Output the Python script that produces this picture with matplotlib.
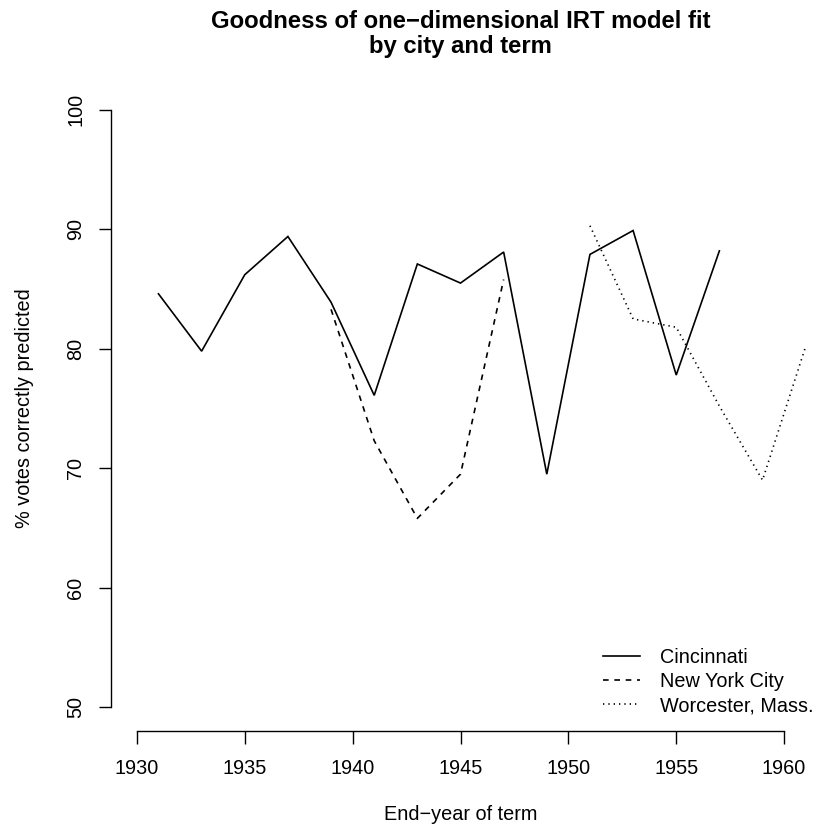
import matplotlib
matplotlib.use("Agg")
import matplotlib.pyplot as plt
from matplotlib.lines import Line2D

plt.rcParams['font.family'] = ['Liberation Sans', 'DejaVu Sans']

# Data
years_cin = [1931, 1933, 1935, 1937, 1939, 1941, 1943, 1945, 1947, 1949, 1951, 1953, 1955, 1957]
cincinnati = [84.6, 79.8, 86.2, 89.4, 83.9, 76.1, 87.1, 85.5, 88.1, 69.5, 87.9, 89.9, 77.8, 88.2]
years_nyc = [1939, 1941, 1943, 1945, 1947]
new_york = [83.3, 72.3, 65.8, 69.5, 85.8]
years_wor = [1951, 1953, 1955, 1957, 1959, 1961]
worcester = [90.3, 82.5, 81.8, 75.2, 69.0, 80.2]
labels = ["Cincinnati", "New York City", "Worcester, Mass."]
xticks = [1930, 1935, 1940, 1945, 1950, 1955, 1960]
yticks = [50, 60, 70, 80, 90, 100]

W, H = 822, 832
fig = plt.figure(figsize=(W / 100, H / 100), dpi=100)
L, R, B, T = 111, 810, 731, 86
ax = fig.add_axes([L / W, (H - B) / H, (R - L) / W, (B - T) / H])
ax.set_xlim(1928.8, 1961.2)
ax.set_ylim(48, 102)

lw = 1.2
ax.plot(years_cin, cincinnati, color='black', lw=lw, solid_joinstyle='miter')
ax.plot(years_nyc, new_york, color='black', lw=lw, dashes=(3.4, 3.4))
ax.plot(years_wor, worcester, color='black', lw=lw, dashes=(0.8, 2.4))

for s in ['top', 'right']:
    ax.spines[s].set_visible(False)
ax.spines['left'].set_bounds(50, 100)
ax.spines['bottom'].set_bounds(1930, 1960)
for s in ['left', 'bottom']:
    ax.spines[s].set_linewidth(1.0)

fs = 14.3
ax.set_xticks(xticks)
ax.set_xticklabels([str(v) for v in xticks], fontsize=fs)
ax.set_yticks(yticks)
ax.set_yticklabels([str(v) for v in yticks], fontsize=fs, rotation=90, va='center')
ax.tick_params(axis='both', direction='out', length=9, width=1.0)
ax.tick_params(axis='x', pad=11)
ax.tick_params(axis='y', pad=9.5)

fig.text((L + R) / 2 / W, 1 - 815 / H, "End\u2212year of term", ha='center', va='center', fontsize=fs)
fig.text(25 / W, 1 - 408 / H, "% votes correctly predicted", ha='center', va='center',
         rotation=90, fontsize=fs)
fig.text((L + R) / 2 / W, 1 - 22 / H, "Goodness of one\u2212dimensional IRT model fit",
         ha='center', va='center', fontsize=17.2, fontweight='bold')
fig.text((L + R) / 2 / W, 1 - 46 / H, "by city and term",
         ha='center', va='center', fontsize=17.2, fontweight='bold')

handles = [Line2D([], [], color='black', lw=lw),
           Line2D([], [], color='black', lw=lw, dashes=(3.4, 3.4)),
           Line2D([], [], color='black', lw=lw, dashes=(0.8, 2.4))]
leg = ax.legend(handles, labels, loc='lower left',
                bbox_to_anchor=((603 - L) / (R - L), (B - 715) / (B - T)),
                frameon=False, fontsize=fs, handlelength=1.86, handletextpad=1.0,
                labelspacing=0.26, borderpad=0, borderaxespad=0)

fig.savefig("out.png", dpi=100)
